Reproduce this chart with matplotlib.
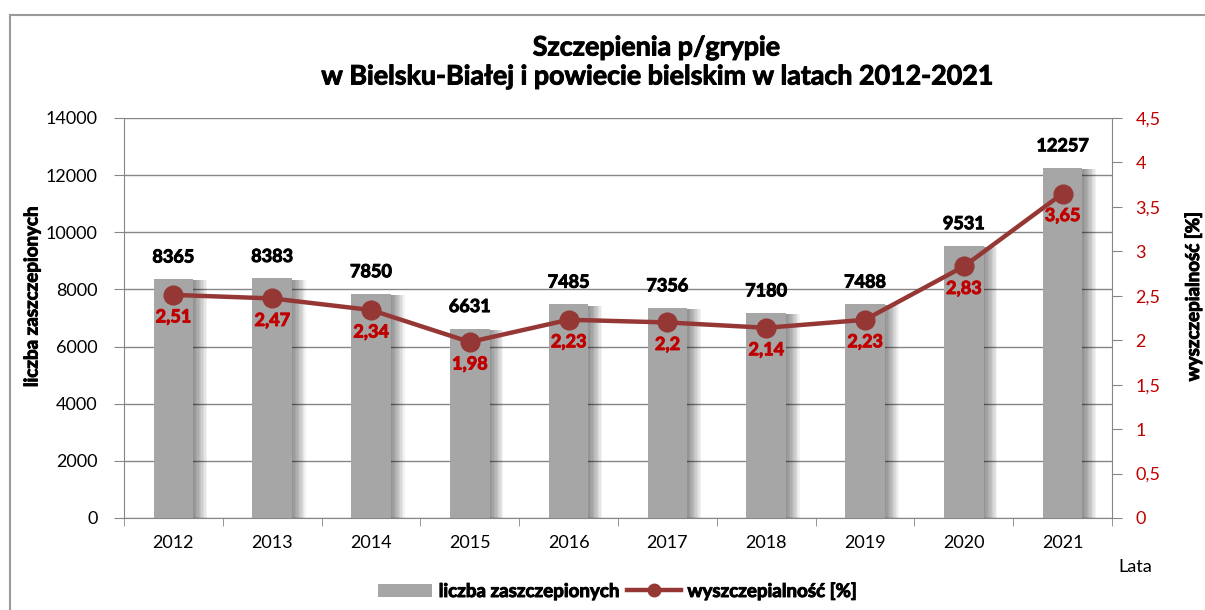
import matplotlib
matplotlib.use("Agg")
import matplotlib.pyplot as plt
import matplotlib.patheffects as pe
from matplotlib.lines import Line2D
from matplotlib.patches import Patch

plt.rcParams['font.family'] = ['Lato', 'DejaVu Sans']

years = ['2012', '2013', '2014', '2015', '2016', '2017', '2018', '2019', '2020', '2021']
vaccinated = [8365, 8383, 7850, 6631, 7485, 7356, 7180, 7488, 9531, 12257]
rate = [2.51, 2.47, 2.34, 1.98, 2.23, 2.2, 2.14, 2.23, 2.83, 3.65]
left_ticks = [0, 2000, 4000, 6000, 8000, 10000, 12000, 14000]
right_ticks = [0, 0.5, 1, 1.5, 2, 2.5, 3, 3.5, 4, 4.5]

W, H = 1205, 610
fig = plt.figure(figsize=(W / 100, H / 100), dpi=100)
ax = fig.add_axes([124 / W, 1 - 518 / H, (1112 - 124) / W, 400 / H])
ax2 = ax.twinx()

grid_c = '#868686'
bar_c = '#A6A6A6'
line_c = '#953735'
red = '#C00000'


def bold_fx(color):
    return [pe.withStroke(linewidth=0.7, foreground=color)]


x = list(range(len(years)))
shadow = [pe.SimplePatchShadow(offset=(o, -1), shadow_rgbFace='black', alpha=0.05)
          for o in (10, 9, 8, 7, 6, 5, 4, 3, 2, 1)]
bars = ax.bar(x, vaccinated, width=0.4, color=bar_c, zorder=3)
for b in bars:
    b.set_path_effects(shadow + [pe.Normal()])

for xi, v in zip(x, vaccinated):
    ax.annotate(str(v), (xi, v), xytext=(0, 22), textcoords='offset pixels',
                ha='center', va='center', fontsize=13, fontweight='bold', color='black', zorder=5,
                path_effects=bold_fx('black'))

ax.set_xlim(-0.5, len(years) - 0.5)
ax.set_ylim(0, 14000)
ax.set_yticks(left_ticks)
ax.set_yticklabels([str(t) for t in left_ticks])
ax.yaxis.grid(True, color=grid_c, lw=1)
ax.set_axisbelow(True)
ax.set_xticks(x)
ax.set_xticklabels(years)
ax.set_xticks([i - 0.5 for i in range(len(years) + 1)], minor=True)
ax.tick_params(axis='x', which='major', length=0, labelsize=13, pad=12)
ax.tick_params(axis='x', which='minor', length=6, color=grid_c, direction='out')
ax.tick_params(axis='y', length=7, color=grid_c, labelsize=13, pad=12, direction='out')
for s in ['top', 'right']:
    ax.spines[s].set_visible(False)
for s in ['left', 'bottom']:
    ax.spines[s].set_color(grid_c)

ax2.plot(x, rate, color=line_c, lw=3.2, marker='o', markersize=13.5, zorder=6)
for xi, v in zip(x, rate):
    ax2.annotate(str(v).replace('.', ','), (xi, v), xytext=(0, -22), textcoords='offset pixels',
                 ha='center', va='center', fontsize=13, fontweight='bold', color=red, zorder=7,
                 path_effects=bold_fx(red))
ax2.set_ylim(0, 4.5)
ax2.set_yticks(right_ticks)
ax2.set_yticklabels([('%g' % t).replace('.', ',') for t in right_ticks])
ax2.tick_params(axis='y', length=7, color=grid_c, labelsize=13, labelcolor=red, pad=10, direction='out')
for s in ['top', 'left', 'bottom']:
    ax2.spines[s].set_visible(False)
ax2.spines['right'].set_color(grid_c)

fig.text(656 / W, 1 - 62 / H, 'Szczepienia p/grypie\nw Bielsku-Białej i powiecie bielskim w latach 2012-2021',
         ha='center', va='center', fontsize=19.3, fontweight='bold', linespacing=1.25,
         path_effects=bold_fx('black'))
fig.text(32 / W, 1 - 297 / H, 'liczba zaszczepionych', rotation=90, ha='center', va='center',
         fontsize=13.5, fontweight='bold', path_effects=bold_fx('black'))
fig.text(1193 / W, 1 - 297 / H, 'wyszczepialność [%]', rotation=90, ha='center', va='center',
         fontsize=13.5, fontweight='bold', path_effects=bold_fx('black'))
fig.text(1135 / W, 1 - 567 / H, 'Lata', ha='center', va='center', fontsize=13)

handles = [Patch(facecolor=bar_c, edgecolor='none'),
           Line2D([0], [0], color=line_c, lw=3.2, marker='o', markersize=9)]
leg = fig.legend(handles, ['liczba zaszczepionych', 'wyszczepialność [%]'], loc='center',
                 bbox_to_anchor=(617 / W, 1 - 591 / H), ncol=2, frameon=False,
                 prop={'size': 13.5, 'weight': 'bold'}, handlelength=2.9, handleheight=0.7,
                 columnspacing=0.4, handletextpad=0.35)
for t in leg.get_texts():
    t.set_path_effects(bold_fx('black'))

# outer chart border
fig.add_artist(Line2D([10 / W, 10 / W], [0, 1 - 15 / H], color='#9A9A9A', lw=1.5, transform=fig.transFigure))
fig.add_artist(Line2D([10 / W, 1], [1 - 15 / H, 1 - 15 / H], color='#9A9A9A', lw=1.5, transform=fig.transFigure))

fig.savefig('out.png', dpi=100)
